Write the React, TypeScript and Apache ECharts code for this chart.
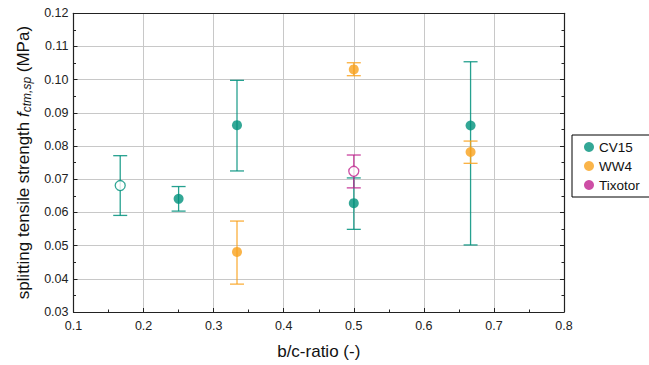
import React, { useEffect, useRef } from "react";
import * as echarts from "echarts";

const cv15X = [1 / 6, 0.25, 1 / 3, 0.5, 2 / 3];
const cv15Mean = [0.0681, 0.0641, 0.0863, 0.0628, 0.0862];
const cv15Lower = [0.0591, 0.0604, 0.0725, 0.0549, 0.0502];
const cv15Upper = [0.0771, 0.0678, 0.0998, 0.0704, 0.1054];
const cv15Hollow = [true, false, false, false, false];

const ww4X = [1 / 3, 0.5, 2 / 3];
const ww4Mean = [0.0481, 0.1031, 0.0782];
const ww4Lower = [0.0384, 0.1012, 0.0748];
const ww4Upper = [0.0574, 0.1051, 0.0815];
const ww4Hollow = [false, false, false];

const tixX = [0.5];
const tixMean = [0.0724];
const tixLower = [0.0674];
const tixUpper = [0.0773];
const tixHollow = [true];

const seriesNames = ["CV15", "WW4", "Tixotor"];
const colors = ["#00917C", "#F9A11B", "#C0228E"];

const xTicks = { min: 0.1, max: 0.8, interval: 0.1 };
const yTicks = { min: 0.03, max: 0.12, interval: 0.01 };

const FONT = "Liberation Sans, Arial, sans-serif";

function makeScatter(name: string, color: string, xs: number[], ys: number[], hollow: boolean[]) {
  return {
    name,
    type: "scatter",
    symbol: "circle",
    symbolSize: 10,
    z: 5,
    data: xs.map((x, i) => ({
      value: [x, ys[i]],
      itemStyle: hollow[i]
        ? { color: "#ffffff", borderColor: color, borderWidth: 1.3 }
        : { color, borderWidth: 0 },
    })),
  };
}

function makeErr(name: string, color: string, xs: number[], lo: number[], hi: number[]) {
  return {
    name: name + "-err",
    type: "custom",
    z: 3,
    data: xs.map((x, i) => [x, lo[i], hi[i]]),
    encode: { x: 0, y: [1, 2] },
    renderItem: (params: any, api: any) => {
      const x = api.value(0);
      const pLo = api.coord([x, api.value(1)]);
      const pHi = api.coord([x, api.value(2)]);
      const hw = 7;
      const st = { stroke: color, lineWidth: 1.3, opacity: 0.85 };
      return {
        type: "group",
        children: [
          { type: "line", shape: { x1: pLo[0], y1: pLo[1], x2: pHi[0], y2: pHi[1] }, style: st },
          { type: "line", shape: { x1: pLo[0] - hw, y1: pLo[1], x2: pLo[0] + hw, y2: pLo[1] }, style: st },
          { type: "line", shape: { x1: pHi[0] - hw, y1: pHi[1], x2: pHi[0] + hw, y2: pHi[1] }, style: st },
        ],
      };
    },
  };
}

export default function App() {
  const ref = useRef<HTMLDivElement>(null);
  useEffect(() => {
    if (!ref.current) return;
    const chart = echarts.init(ref.current, undefined, { renderer: "svg" });
    const axisLabel = { color: "#222", fontSize: 12.5, fontFamily: FONT };
    chart.setOption({
      animation: false,
      backgroundColor: "#ffffff",
      grid: { left: 73.5, right: 85, top: 13.3, bottom: 50.7, containLabel: false },
      legend: {
        orient: "vertical",
        left: 572,
        top: 135,
        padding: [5, 30, 5, 12],
        itemGap: 5,
        itemWidth: 10,
        itemHeight: 10,
        borderColor: "#000",
        borderWidth: 1,
        borderRadius: 0,
        textStyle: { fontSize: 13.5, color: "#111", fontFamily: FONT },
        data: seriesNames.map((n, i) => ({
          name: n,
          icon: "circle",
          itemStyle: { color: colors[i], borderWidth: 0 },
        })),
      },
      xAxis: [
        {
          type: "value",
          min: xTicks.min,
          max: xTicks.max,
          interval: xTicks.interval,
          name: "b/c-ratio (-)",
          nameLocation: "middle",
          nameGap: 31,
          nameTextStyle: { fontSize: 17, color: "#111", fontFamily: FONT },
          axisLine: { show: true, onZero: false, lineStyle: { color: "#222", width: 1.2 } },
          axisTick: { show: true, inside: true, length: 4, lineStyle: { color: "#222" } },
          minorTick: { show: true, splitNumber: 2, length: 2.5, lineStyle: { color: "#222" } },
          splitLine: { show: true, lineStyle: { color: "#c8c8c8", width: 1 } },
          axisLabel: { ...axisLabel, margin: 7, formatter: (v: number) => v.toFixed(1) },
        },
        {
          type: "value",
          position: "top",
          min: xTicks.min,
          max: xTicks.max,
          interval: xTicks.interval,
          axisLine: { show: true, onZero: false, lineStyle: { color: "#222", width: 1.2 } },
          axisTick: { show: false },
          axisLabel: { show: false },
          splitLine: { show: false },
        },
      ],
      yAxis: [
        {
          type: "value",
          min: yTicks.min,
          max: yTicks.max,
          interval: yTicks.interval,
          name: "{n|splitting tensile strength }{f|f}{s|ctm,sp}{n| (MPa)}",
          nameLocation: "middle",
          nameGap: 40,
          nameTextStyle: {
            color: "#111",
            fontFamily: FONT,
            rich: {
              n: { fontSize: 17, fontFamily: FONT, color: "#111" },
              f: { fontSize: 17, fontStyle: "italic", fontFamily: FONT, color: "#111" },
              s: { fontSize: 12, fontStyle: "italic", fontFamily: FONT, color: "#111", padding: [7, 0, 0, 0] },
            },
          },
          axisLine: { show: true, onZero: false, lineStyle: { color: "#222", width: 1.2 } },
          axisTick: { show: true, inside: true, length: 4, lineStyle: { color: "#222" } },
          minorTick: { show: true, splitNumber: 2, length: 2.5, lineStyle: { color: "#222" } },
          splitLine: { show: true, lineStyle: { color: "#c8c8c8", width: 1 } },
          axisLabel: { ...axisLabel, margin: 5, formatter: (v: number) => v.toFixed(2) },
        },
        {
          type: "value",
          position: "right",
          min: yTicks.min,
          max: yTicks.max,
          interval: yTicks.interval,
          axisLine: { show: true, onZero: false, lineStyle: { color: "#222", width: 1.2 } },
          axisTick: { show: true, inside: true, length: 4, lineStyle: { color: "#222" } },
          minorTick: { show: true, splitNumber: 2, length: 2.5, lineStyle: { color: "#222" } },
          axisLabel: { show: false },
          splitLine: { show: false },
        },
      ],
      series: [
        makeErr(seriesNames[0], colors[0], cv15X, cv15Lower, cv15Upper),
        makeErr(seriesNames[1], colors[1], ww4X, ww4Lower, ww4Upper),
        makeErr(seriesNames[2], colors[2], tixX, tixLower, tixUpper),
        makeScatter(seriesNames[0], colors[0], cv15X, cv15Mean, cv15Hollow),
        makeScatter(seriesNames[1], colors[1], ww4X, ww4Mean, ww4Hollow),
        makeScatter(seriesNames[2], colors[2], tixX, tixMean, tixHollow),
      ],
    });
    return () => chart.dispose();
  }, []);
  return <div ref={ref} style={{ width: 649, height: 365, position: "absolute", left: 0, top: 0 }} />;
}
